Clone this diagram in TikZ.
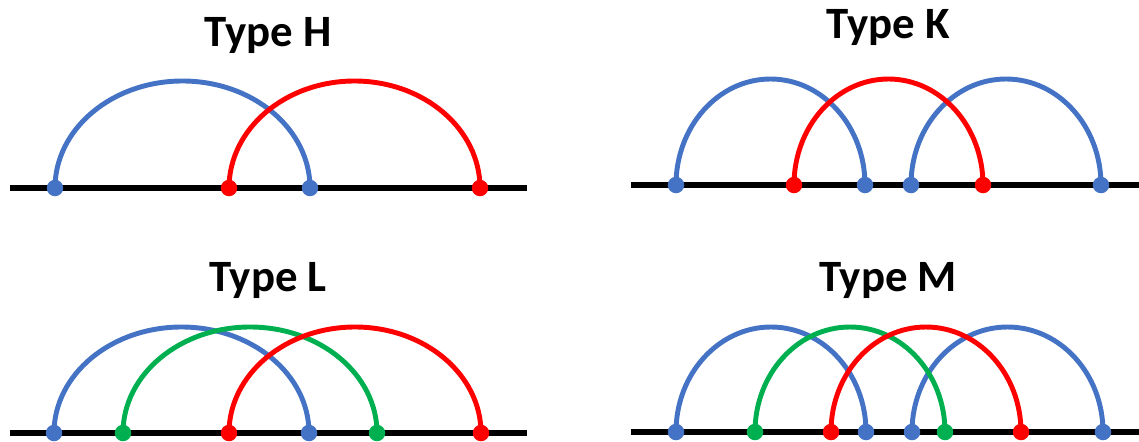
\documentclass[tikz,border=0pt]{standalone}
\usepackage{fontspec}
\setmainfont{Carlito}
\usetikzlibrary{backgrounds}
\definecolor{arcblue}{RGB}{68,114,196}
\definecolor{arcred}{RGB}{255,0,0}
\definecolor{arcgreen}{RGB}{0,176,80}
\tikzset{
  ttl/.style={font=\bfseries\fontsize{25.5}{30}\selectfont,inner sep=0pt},
  baseline/.style={draw=black,line width=2.9pt},
  bluearc/.style={draw=arcblue,line width=2.8pt},
  redarc/.style={draw=arcred,line width=2.8pt},
  greenarc/.style={draw=arcgreen,line width=2.8pt},
  bdot/.style={circle,fill=arcblue,inner sep=0pt,minimum size=0.33cm},
  rdot/.style={circle,fill=arcred,inner sep=0pt,minimum size=0.33cm},
  gdot/.style={circle,fill=arcgreen,inner sep=0pt,minimum size=0.33cm},
}
\begin{document}
\begin{tikzpicture}[x=0.02cm,y=0.02cm]
  \useasboundingbox (0,0) rectangle (1139,441);
  % Type H
  \node[ttl] (tH) at (268,406) {Type H};
  \coordinate (hL) at (10,253);
  \coordinate (hR) at (527,253);
  \node[bdot] (h1) at (55,253) {};
  \node[rdot] (h2) at (229,253) {};
  \node[bdot] (h3) at (310,253) {};
  \node[rdot] (h4) at (480,253) {};
  % Type K
  \node[ttl] (tK) at (888,414) {Type K};
  \coordinate (kL) at (631,256);
  \coordinate (kR) at (1139,256);
  \node[bdot] (k1) at (676,256) {};
  \node[rdot] (k2) at (794,256) {};
  \node[bdot] (k3) at (865,256) {};
  \node[bdot] (k4) at (911,256) {};
  \node[rdot] (k5) at (983,256) {};
  \node[bdot] (k6) at (1101,256) {};
  % Type L
  \node[ttl] (tL) at (268,161) {Type L};
  \coordinate (lL) at (10,8);
  \coordinate (lR) at (527,8);
  \node[bdot] (l1) at (54,8) {};
  \node[gdot] (l2) at (123,8) {};
  \node[rdot] (l3) at (229,8) {};
  \node[bdot] (l4) at (309,8) {};
  \node[gdot] (l5) at (377,8) {};
  \node[rdot] (l6) at (481,8) {};
  % Type M
  \node[ttl] (tM) at (888,161) {Type M};
  \coordinate (mL) at (631,9);
  \coordinate (mR) at (1139,9);
  \node[bdot] (m1) at (676,9) {};
  \node[gdot] (m2) at (755,9) {};
  \node[rdot] (m3) at (831,9) {};
  \node[bdot] (m4) at (866,9) {};
  \node[bdot] (m5) at (912,9) {};
  \node[gdot] (m6) at (945,9) {};
  \node[rdot] (m7) at (1021,9) {};
  \node[bdot] (m8) at (1103,9) {};
  \begin{scope}[on background layer]
    \draw[baseline] (hL) -- (hR);
    \draw[bluearc] (h1.center) arc[start angle=180,end angle=0,x radius=127.5,y radius=107];
    \draw[redarc] (h2.center) arc[start angle=180,end angle=0,x radius=125.5,y radius=107];
    \draw[baseline] (kL) -- (kR);
    \draw[bluearc] (k1.center) arc[start angle=180,end angle=0,x radius=94.5,y radius=106];
    \draw[bluearc] (k4.center) arc[start angle=180,end angle=0,x radius=95,y radius=106];
    \draw[redarc] (k2.center) arc[start angle=180,end angle=0,x radius=94.5,y radius=106];
    \draw[baseline] (lL) -- (lR);
    \draw[bluearc] (l1.center) arc[start angle=180,end angle=0,x radius=127.5,y radius=106];
    \draw[greenarc] (l2.center) arc[start angle=180,end angle=0,x radius=127,y radius=106];
    \draw[redarc] (l3.center) arc[start angle=180,end angle=0,x radius=126,y radius=106];
    \draw[baseline] (mL) -- (mR);
    \draw[bluearc] (m1.center) arc[start angle=180,end angle=0,x radius=95,y radius=105];
    \draw[bluearc] (m5.center) arc[start angle=180,end angle=0,x radius=95.5,y radius=105];
    \draw[greenarc] (m2.center) arc[start angle=180,end angle=0,x radius=95,y radius=105];
    \draw[redarc] (m3.center) arc[start angle=180,end angle=0,x radius=95,y radius=105];
  \end{scope}
\end{tikzpicture}
\end{document}
